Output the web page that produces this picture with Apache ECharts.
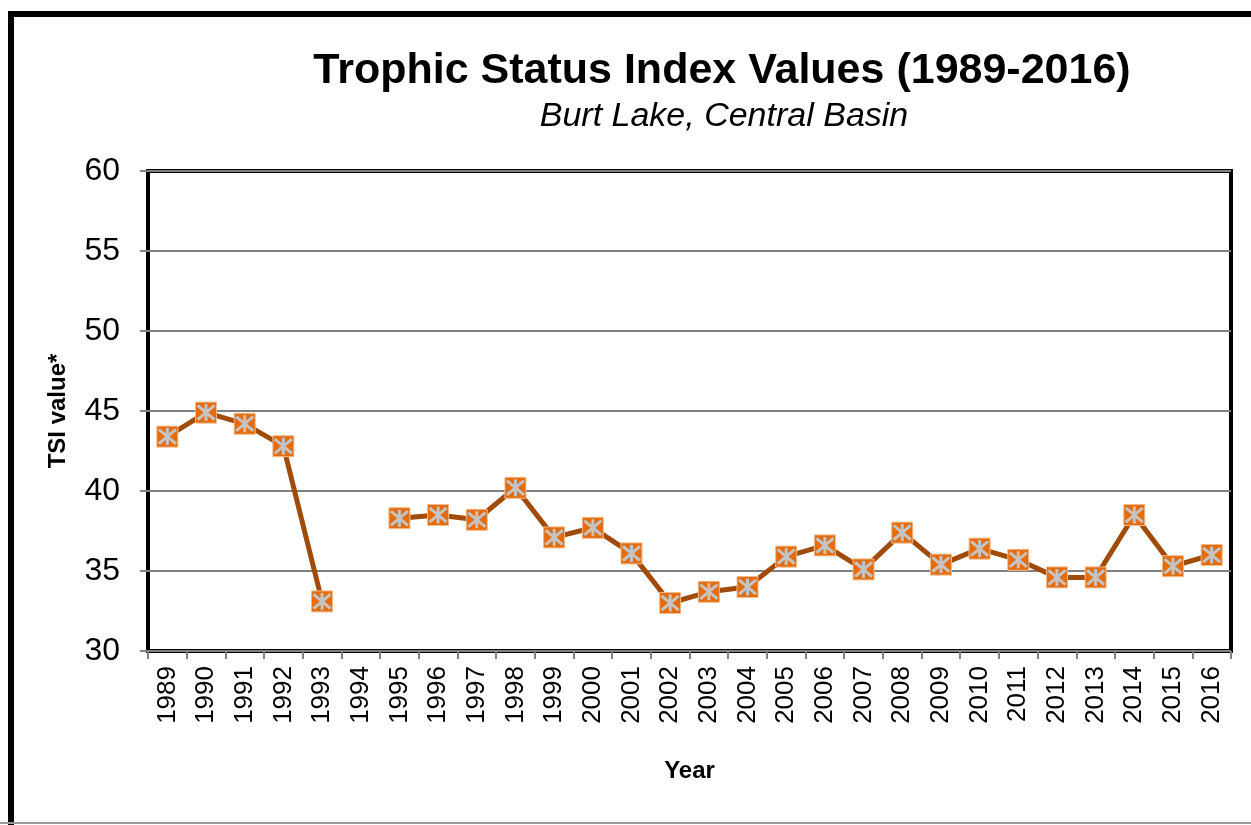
<!DOCTYPE html>
<html>
<head>
<meta charset="utf-8">
<script src="https://cdn.jsdelivr.net/npm/echarts@6/dist/echarts.min.js"></script>
<style>
  html, body { margin: 0; padding: 0; background: #fff; }
  #chart { width: 1251px; height: 825px; }
</style>
</head>
<body>
<div id="chart"></div>
<script>
// years along the x axis
var years = ['1989', '1990', '1991', '1992', '1993', '1994', '1995', '1996', '1997', '1998',
  '1999', '2000', '2001', '2002', '2003', '2004', '2005', '2006', '2007', '2008',
  '2009', '2010', '2011', '2012', '2013', '2014', '2015', '2016']
// TSI values, 1994 has no sample
var tsiValues = [43.4, 44.9, 44.2, 42.8, 33.1, null, 38.3, 38.5, 38.2, 40.2,
  37.1, 37.7, 36.1, 33.0, 33.7, 34.0, 35.9, 36.6, 35.1, 37.4,
  35.4, 36.4, 35.7, 34.6, 34.6, 38.5, 35.3, 36.0]
var yTicks = [30, 35, 40, 45, 50, 55, 60]

var chart = echarts.init(document.getElementById('chart'))
var font = 'Liberation Sans, Arial, sans-serif'

chart.setOption({
  animation: false,
  backgroundColor: '#fff',
  textStyle: { fontFamily: font },
  title: [{
    text: 'Trophic Status Index Values (1989-2016)',
    left: 717,
    top: 45,
    textAlign: 'center',
    textStyle: { fontSize: 43, fontWeight: 'bold', color: '#000', fontFamily: font }
  }, {
    text: 'Burt Lake, Central Basin',
    left: 719,
    top: 95,
    textAlign: 'center',
    textStyle: { fontSize: 34, fontStyle: 'italic', fontWeight: 'normal', color: '#000', fontFamily: font }
  }],
  graphic: [{
    type: 'rect',
    shape: { x: 11, y: 14, width: 1300, height: 900 },
    style: { fill: 'none', stroke: '#000', lineWidth: 6 },
    silent: true
  }, {
    type: 'line',
    shape: { x1: 0, y1: 823, x2: 1251, y2: 823 },
    style: { stroke: '#999', lineWidth: 2 },
    silent: true
  }],
  grid: {
    left: 148,
    right: 20,
    top: 171,
    bottom: 174,
    show: true,
    borderColor: '#000',
    borderWidth: 4,
    backgroundColor: 'transparent'
  },
  xAxis: {
    type: 'category',
    data: years,
    boundaryGap: true,
    name: 'Year',
    nameLocation: 'middle',
    nameGap: 108,
    nameTextStyle: { fontSize: 24, fontWeight: 'bold', color: '#000' },
    axisLine: { show: false },
    axisTick: { show: true, interval: 0, length: 8, lineStyle: { color: '#808080', width: 2 } },
    axisLabel: { interval: 0, rotate: 90, fontSize: 26, color: '#000', margin: 15 },
    splitLine: { show: false }
  },
  yAxis: {
    type: 'value',
    min: yTicks[0],
    max: yTicks[yTicks.length - 1],
    interval: 5,
    name: 'TSI value*',
    nameLocation: 'middle',
    nameGap: 78,
    nameRotate: 90,
    nameTextStyle: { fontSize: 24, fontWeight: 'bold', color: '#000' },
    axisLine: { show: false },
    axisTick: { show: true, length: 8, lineStyle: { color: '#808080', width: 2 } },
    axisLabel: { fontSize: 32, color: '#000', margin: 28 },
    splitLine: { show: true, lineStyle: { color: '#808080', width: 2 } }
  },
  series: [{
    name: 'TSI',
    type: 'line',
    data: tsiValues,
    connectNulls: false,
    symbol: 'rect',
    symbolSize: 21,
    lineStyle: { color: '#A04C08', width: 5 },
    itemStyle: { color: '#E46C0A', borderColor: '#F6B98A', borderWidth: 1 },
    z: 3
  }, {
    name: 'TSI star',
    type: 'scatter',
    data: tsiValues,
    symbol: 'path://M5,0 L5,10 M0.8,0.8 L9.2,9.2 M9.2,0.8 L0.8,9.2',
    symbolSize: 17,
    itemStyle: { color: 'none', borderColor: '#C4C4C4', borderWidth: 3, opacity: 1 },
    z: 4,
    silent: true
  }]
})
</script>
</body>
</html>
